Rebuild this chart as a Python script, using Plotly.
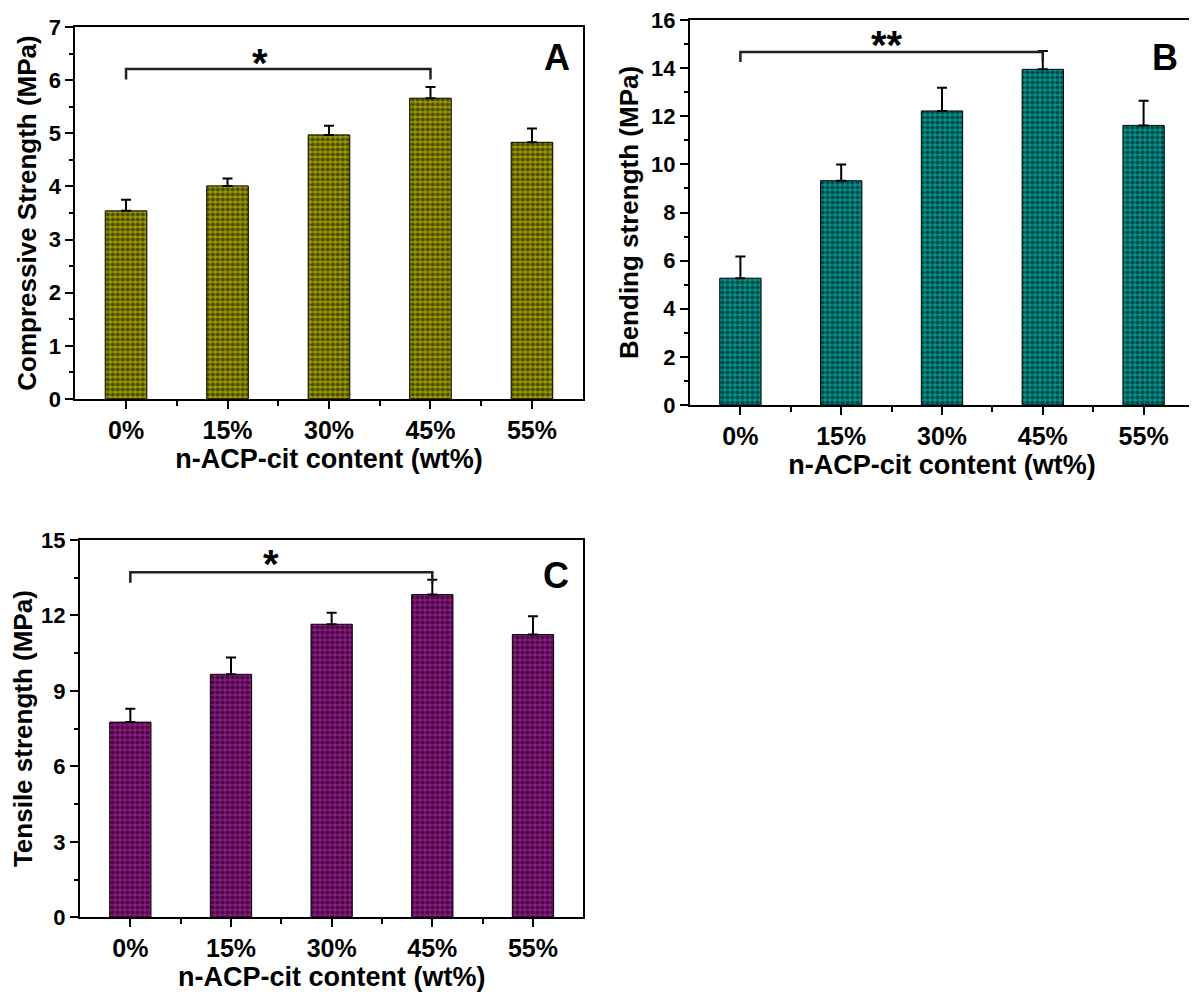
import plotly.graph_objects as go

categories = ["0%", "15%", "30%", "45%", "55%"]
xpos = [0, 1, 2, 3, 4]

compressive = [3.54, 4.01, 4.97, 5.66, 4.83]
compressive_err = [0.21, 0.14, 0.17, 0.21, 0.26]

bending = [5.27, 9.32, 12.22, 13.95, 11.62]
bending_err = [0.90, 0.68, 0.96, 0.76, 1.02]

tensile = [7.76, 9.66, 11.65, 12.83, 11.24]
tensile_err = [0.53, 0.67, 0.46, 0.59, 0.73]

# significance brackets: (from, to, label, bracket level, end level, label x, label y)
sig_A = (0, 3, "*", 6.21, 6.01, 1.32, 6.33)
sig_B = (0, 3, "**", 14.67, 14.25, 1.45, 14.95)
sig_C = (0, 3, "*", 13.72, 13.3, 1.40, 14.05)

FONT = "Liberation Sans, Arial, sans-serif"
W, H, OFF = 1189, 986, 8  # page body margin offset


def bold(size):
    return dict(family=FONT, size=size, color="black", weight="bold")


def xd(a, b):
    return [(a - OFF) / W, (b - OFF) / W]


def yd(bottom, top):
    return [1 - (bottom - OFF) / H, 1 - (top - OFF) / H]


panels = [
    dict(vals=compressive, err=compressive_err, color="#9a9a00", sig=sig_A,
         letter="A", letter_pos=(4.25, 6.43), ax="", yrange=[0, 7], dtick=1, minor=0.5,
         ytitle="Compressive Strength (MPa)",
         xdom=xd(75.3, 582.7), ydom=yd(399, 27)),
    dict(vals=bending, err=bending_err, color="#00928c", sig=sig_B,
         letter="B", letter_pos=(4.21, 14.44), ax="2", yrange=[0, 16], dtick=2, minor=1,
         ytitle="Bending strength (MPa)",
         xdom=xd(690, 1194), ydom=yd(405, 20)),
    dict(vals=tensile, err=tensile_err, color="#8c1884", sig=sig_C,
         letter="C", letter_pos=(4.23, 13.58), ax="3", yrange=[0, 15], dtick=3, minor=1.5,
         ytitle="Tensile strength (MPa)",
         xdom=xd(80, 583.3), ydom=yd(917.3, 540)),
]

fig = go.Figure()
annotations = []
layout = {}

for p in panels:
    xa = "x" + p["ax"]
    ya = "y" + p["ax"]
    fig.add_trace(go.Bar(
        x=xpos, y=p["vals"], width=0.41,
        marker=dict(color=p["color"], line=dict(color="black", width=1),
                    pattern=dict(shape=".", fgcolor="black", size=5, solidity=0.55)),
        error_y=dict(type="data", array=p["err"], arrayminus=[0] * 5, symmetric=False,
                     color="black", thickness=2, width=5),
        xaxis=xa, yaxis=ya, showlegend=False, hoverinfo="skip",
    ))
    s = p["sig"]
    fig.add_trace(go.Scatter(
        x=[s[0], s[0], s[1], s[1]], y=[s[4], s[3], s[3], s[4]],
        mode="lines", line=dict(color="#222222", width=2.5),
        xaxis=xa, yaxis=ya, showlegend=False, hoverinfo="skip",
    ))
    annotations.append(dict(x=s[5], y=s[6], xref=xa, yref=ya, text=s[2],
                            showarrow=False, font=bold(40)))
    annotations.append(dict(x=p["letter_pos"][0], y=p["letter_pos"][1], xref=xa, yref=ya,
                            text=p["letter"], showarrow=False, font=bold(36)))
    xkey = "xaxis" + p["ax"]
    ykey = "yaxis" + p["ax"]
    layout[xkey] = dict(
        domain=p["xdom"], anchor=ya, range=[-0.5, 4.5], automargin=False,
        tickmode="array", tickvals=xpos, ticktext=categories,
        ticks="outside", ticklen=8, tickwidth=2, tickcolor="black",
        minor=dict(tickmode="array", tickvals=[0.5, 1.5, 2.5, 3.5], ticks="outside",
                   ticklen=5, tickwidth=2, tickcolor="black"),
        showline=True, linecolor="black", linewidth=2, mirror=True,
        showgrid=False, zeroline=False, ticklabeloverflow="allow",
        tickfont=bold(25),
        title=dict(text="n-ACP-cit content (wt%)", standoff=0, font=bold(27)),
    )
    layout[ykey] = dict(
        domain=p["ydom"], anchor=xa, range=p["yrange"], automargin=False,
        tickmode="linear", tick0=0, dtick=p["dtick"],
        ticks="outside", ticklen=8, tickwidth=2, tickcolor="black",
        minor=dict(tick0=0, dtick=p["minor"], ticks="outside", ticklen=4, tickwidth=2,
                   tickcolor="black"),
        showline=True, linecolor="black", linewidth=2, mirror=True,
        showgrid=False, zeroline=False, ticklabeloverflow="allow",
        tickfont=bold(22),
        tickformat="d",
        title=dict(text=p["ytitle"], standoff=5, font=bold(26)),
    )

fig.update_layout(
    width=W, height=H,
    margin=dict(l=0, r=0, t=0, b=0, autoexpand=False),
    paper_bgcolor="white", plot_bgcolor="white",
    annotations=annotations,
    **layout,
)

fig.write_html("out.html")
